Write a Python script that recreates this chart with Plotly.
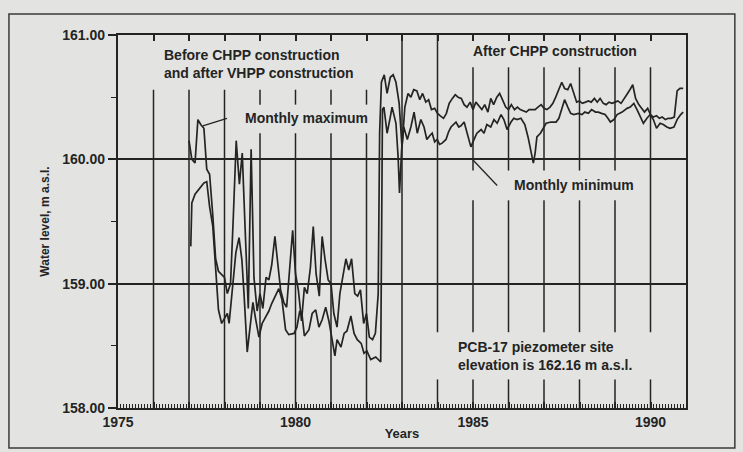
import plotly.graph_objects as go

# ---------------- data ----------------
max_years = [1977.00, 1977.08, 1977.17, 1977.25, 1977.33, 1977.42, 1977.50, 1977.58, 1977.67, 1977.75,
             1977.83, 1977.92, 1978.00, 1978.08, 1978.17, 1978.25, 1978.33, 1978.42, 1978.50, 1978.58,
             1978.67, 1978.75, 1978.83, 1978.92, 1979.00, 1979.08, 1979.17, 1979.25, 1979.33, 1979.42,
             1979.50, 1979.58, 1979.67, 1979.75, 1979.83, 1979.92, 1980.00, 1980.08, 1980.17, 1980.25,
             1980.33, 1980.42, 1980.50, 1980.58, 1980.67, 1980.75, 1980.83, 1980.92, 1981.00, 1981.08,
             1981.17, 1981.25, 1981.33, 1981.42, 1981.50, 1981.58, 1981.67, 1981.75, 1981.83, 1981.92,
             1982.00, 1982.08, 1982.17, 1982.25, 1982.33, 1982.37, 1982.42, 1982.50, 1982.58, 1982.67,
             1982.75, 1982.83, 1982.92, 1983.00, 1983.08, 1983.17, 1983.25, 1983.33, 1983.42, 1983.50,
             1983.58, 1983.67, 1983.75, 1983.83, 1983.92, 1984.00, 1984.08, 1984.17, 1984.25, 1984.33,
             1984.42, 1984.50, 1984.58, 1984.67, 1984.75, 1984.83, 1984.92, 1985.00, 1985.08, 1985.17,
             1985.25, 1985.33, 1985.42, 1985.50, 1985.58, 1985.67, 1985.75, 1985.83, 1985.92, 1986.00,
             1986.08, 1986.17, 1986.25, 1986.33, 1986.42, 1986.50, 1986.58, 1986.67, 1986.75, 1986.83,
             1986.92, 1987.00, 1987.08, 1987.17, 1987.25, 1987.33, 1987.42, 1987.50, 1987.58, 1987.67,
             1987.75, 1987.83, 1987.92, 1988.00, 1988.08, 1988.17, 1988.25, 1988.33, 1988.42, 1988.50,
             1988.58, 1988.67, 1988.75, 1988.83, 1988.92, 1989.00, 1989.08, 1989.17, 1989.25, 1989.33,
             1989.42, 1989.50, 1989.58, 1989.67, 1989.75, 1989.83, 1989.92, 1990.00, 1990.08, 1990.17,
             1990.25, 1990.33, 1990.42, 1990.50, 1990.58, 1990.67, 1990.75, 1990.83, 1990.92]
monthly_max = [160.15, 160.00, 159.97, 160.32, 160.28, 160.25, 159.92, 159.88, 159.55, 159.20,
               159.10, 159.07, 159.05, 158.92, 159.00, 159.55, 160.15, 159.80, 160.05, 159.45,
               158.80, 160.08, 159.05, 158.78, 158.92, 158.80, 159.05, 159.03, 159.15, 159.38,
               159.15, 158.95, 158.85, 158.81, 159.10, 159.43, 159.08, 158.95, 158.70, 158.97,
               158.92, 159.13, 159.46, 159.08, 158.90, 159.38, 159.20, 159.03, 159.00, 158.76,
               158.65, 158.92, 159.05, 159.20, 159.11, 159.20, 158.92, 158.90, 158.95, 158.68,
               158.76, 158.57, 158.55, 158.60, 158.92, 160.21, 160.62, 160.68, 160.53, 160.66,
               160.68, 160.62, 160.45, 160.10, 160.42, 160.53, 160.50, 160.56, 160.55, 160.48,
               160.53, 160.46, 160.48, 160.40, 160.41, 160.37, 160.35, 160.33, 160.37, 160.45,
               160.49, 160.52, 160.50, 160.49, 160.44, 160.42, 160.46, 160.40, 160.46, 160.43,
               160.40, 160.44, 160.38, 160.49, 160.44, 160.50, 160.53, 160.48, 160.42, 160.40,
               160.44, 160.40, 160.42, 160.40, 160.39, 160.38, 160.40, 160.40, 160.40, 160.42,
               160.44, 160.41, 160.40, 160.42, 160.45, 160.50, 160.56, 160.62, 160.57, 160.56,
               160.61, 160.53, 160.46, 160.47, 160.45, 160.46, 160.47, 160.46, 160.49, 160.46,
               160.49, 160.45, 160.44, 160.46, 160.45, 160.46, 160.47, 160.45, 160.49, 160.52,
               160.56, 160.60, 160.49, 160.44, 160.41, 160.38, 160.41, 160.36, 160.34, 160.35,
               160.33, 160.34, 160.32, 160.33, 160.33, 160.34, 160.55, 160.57, 160.57]

min_years = [1977.05, 1977.08, 1977.17, 1977.25, 1977.33, 1977.42, 1977.50, 1977.58, 1977.67, 1977.75,
             1977.83, 1977.92, 1978.00, 1978.08, 1978.13, 1978.22, 1978.32, 1978.41, 1978.49, 1978.55,
             1978.64, 1978.72, 1978.80, 1978.88, 1978.97, 1979.06, 1979.16, 1979.25, 1979.33, 1979.42,
             1979.53, 1979.62, 1979.72, 1979.81, 1979.96, 1980.04, 1980.12, 1980.18, 1980.25, 1980.38,
             1980.47, 1980.57, 1980.66, 1980.75, 1980.85, 1980.94, 1981.03, 1981.11, 1981.17, 1981.28,
             1981.37, 1981.45, 1981.56, 1981.65, 1981.74, 1981.85, 1981.93, 1982.01, 1982.12, 1982.26,
             1982.40, 1982.45, 1982.49, 1982.58, 1982.67, 1982.72, 1982.83, 1982.89, 1982.93, 1982.99,
             1983.05, 1983.15, 1983.25, 1983.34, 1983.43, 1983.53, 1983.62, 1983.70, 1983.78, 1983.85,
             1983.92, 1983.99, 1984.06, 1984.13, 1984.24, 1984.31, 1984.38, 1984.45, 1984.52, 1984.60,
             1984.66, 1984.75, 1984.83, 1984.94, 1985.03, 1985.11, 1985.23, 1985.31, 1985.39, 1985.50,
             1985.59, 1985.68, 1985.79, 1985.87, 1985.96, 1986.07, 1986.15, 1986.24, 1986.35, 1986.46,
             1986.55, 1986.63, 1986.70, 1986.75, 1986.80, 1986.90, 1987.06, 1987.20, 1987.34, 1987.42,
             1987.50, 1987.58, 1987.67, 1987.75, 1987.84, 1987.97, 1988.07, 1988.15, 1988.25, 1988.34,
             1988.45, 1988.53, 1988.62, 1988.72, 1988.80, 1988.87, 1988.97, 1989.06, 1989.20, 1989.34,
             1989.43, 1989.53, 1989.62, 1989.72, 1989.80, 1989.90, 1989.99, 1990.08, 1990.17, 1990.27,
             1990.36, 1990.46, 1990.55, 1990.66, 1990.75, 1990.85, 1990.92]
monthly_min = [159.30, 159.65, 159.72, 159.75, 159.78, 159.81, 159.82, 159.62, 159.46, 159.13,
               158.79, 158.68, 158.72, 158.76, 158.68, 158.97, 159.25, 159.37, 159.19, 158.92,
               158.45, 158.65, 158.85, 158.71, 158.57, 158.68, 158.73, 158.78, 158.84, 158.90,
               158.96, 158.87, 158.63, 158.59, 158.60, 158.65, 158.78, 158.76, 158.58, 158.63,
               158.76, 158.79, 158.65, 158.71, 158.81, 158.70, 158.55, 158.42, 158.55, 158.49,
               158.60, 158.62, 158.74, 158.60, 158.55, 158.52, 158.44, 158.46, 158.39, 158.41,
               158.37, 160.40, 160.42, 160.21, 160.34, 160.42, 160.29, 160.02, 159.73, 160.08,
               160.26, 160.16, 160.26, 160.38, 160.21, 160.32, 160.26, 160.16, 160.19, 160.21,
               160.14, 160.16, 160.12, 160.13, 160.16, 160.22, 160.26, 160.28, 160.30, 160.26,
               160.27, 160.30, 160.21, 160.10, 160.16, 160.21, 160.24, 160.21, 160.28, 160.26,
               160.32, 160.29, 160.36, 160.32, 160.24, 160.30, 160.33, 160.32, 160.33, 160.28,
               160.18, 160.05, 159.97, 160.05, 160.18, 160.21, 160.29, 160.30, 160.30, 160.33,
               160.40, 160.48, 160.42, 160.37, 160.36, 160.37, 160.36, 160.38, 160.37, 160.40,
               160.38, 160.38, 160.37, 160.36, 160.33, 160.30, 160.32, 160.36, 160.38, 160.41,
               160.42, 160.45, 160.40, 160.34, 160.29, 160.33, 160.36, 160.32, 160.25, 160.29,
               160.28, 160.26, 160.25, 160.26, 160.32, 160.36, 160.38]

x_tick_years = list(range(1975, 1992))
x_tick_labels = ["1975", "", "", "", "", "1980", "", "", "", "", "1985", "", "", "", "", "1990", ""]
y_tick_vals = [158, 159, 160, 161]
y_tick_labels = ["158.00", "159.00", "160.00", "161.00"]

# ---------------- styling ----------------
INK = "#242424"
BG = "#e3e4e1"
FONT = "Liberation Sans"

fig = go.Figure()
fig.add_trace(go.Scatter(x=max_years, y=monthly_max, mode="lines", name="Monthly maximum",
                         line=dict(color=INK, width=1.7), xaxis="x", yaxis="y"))
fig.add_trace(go.Scatter(x=min_years, y=monthly_min, mode="lines", name="Monthly minimum",
                         line=dict(color=INK, width=1.7), xaxis="x2", yaxis="y"))

# partial vertical year lines (as in the printed figure)
segments = []
for yr in (1976, 1977, 1978):
    segments.append((yr, 160.56, 158.0))
for yr in (1979, 1980, 1981, 1982):
    segments += [(yr, 160.56, 160.44), (yr, 160.21, 158.0)]
segments.append((1983, 161.0, 158.0))
segments += [(1984, 161.0, 158.61), (1984, 158.23, 158.0)]
for yr in (1985, 1986, 1987, 1988, 1989):
    segments += [(yr, 160.74, 159.91), (yr, 159.67, 158.61), (yr, 158.23, 158.0)]
segments += [(1990, 160.74, 158.61), (1990, 158.23, 158.0)]

shapes = [dict(type="line", xref="x", yref="y", x0=s[0], x1=s[0], y0=s[1], y1=s[2],
               line=dict(color=INK, width=1.5)) for s in segments]
# leader lines
shapes.append(dict(type="line", xref="x", yref="y", x0=1977.39, y0=160.27, x1=1978.07, y1=160.33,
                   line=dict(color=INK, width=1.3)))
shapes.append(dict(type="line", xref="x", yref="y", x0=1985.0, y0=159.995, x1=1985.68, y1=159.79,
                   line=dict(color=INK, width=1.3)))
# outer frame of the figure
shapes.append(dict(type="rect", xref="paper", yref="paper", x0=-0.192, x1=1.086, y0=-0.107, y1=1.056,
                   line=dict(color="#3a3a3a", width=1.5), fillcolor="rgba(0,0,0,0)"))

tfont = dict(family=FONT, size=14, color=INK)
annotations = [
    dict(x=1976.24, y=160.765, text="<b>Before CHPP construction<br>and after VHPP construction</b>",
         xanchor="left", yanchor="middle", align="left", showarrow=False, font=tfont),
    dict(x=1978.52, y=160.33, text="<b>Monthly maximum</b>", xanchor="left", yanchor="middle",
         showarrow=False, font=tfont),
    dict(x=1984.94, y=160.87, text="<b>After CHPP construction</b>", xanchor="left", yanchor="middle",
         showarrow=False, font=tfont),
    dict(x=1986.10, y=159.79, text="<b>Monthly minimum</b>", xanchor="left", yanchor="middle",
         showarrow=False, font=tfont),
    dict(x=1984.52, y=158.42, text="<b>PCB-17 piezometer site<br>elevation is 162.16 m a.s.l.</b>",
         xanchor="left", yanchor="middle", align="left", showarrow=False, font=tfont),
]

fig.update_layout(
    width=743, height=452,
    margin=dict(l=118, r=57, t=35, b=44),
    paper_bgcolor=BG, plot_bgcolor=BG,
    showlegend=False,
    shapes=shapes, annotations=annotations,
    font=dict(family=FONT, color=INK),
    xaxis=dict(range=[1975, 1991], tickmode="array", tickvals=x_tick_years, ticktext=x_tick_labels,
               ticks="inside", ticklen=6, tickwidth=1.5, tickcolor=INK,
               minor=dict(dtick=1 / 12, tick0=1975, ticks="inside", ticklen=4, tickwidth=1, tickcolor=INK,
                          showgrid=False),
               showgrid=False, zeroline=False, showline=True, linewidth=2.2, linecolor=INK, mirror=True,
               tickfont=dict(family=FONT, size=14, color=INK, weight="bold"),
               title=dict(text="<b>Years</b>", font=dict(family=FONT, size=13, color=INK), standoff=0)),
    xaxis2=dict(matches="x", overlaying="x", side="top", tickmode="array", tickvals=x_tick_years,
                ticks="inside", ticklen=6, tickwidth=1.5, tickcolor=INK, showticklabels=False,
                showgrid=False, zeroline=False, showline=False),
    yaxis=dict(range=[158, 161], tickmode="array", tickvals=y_tick_vals, ticktext=y_tick_labels,
               ticks="outside", ticklen=8, tickwidth=1.5, tickcolor=INK,
               minor=dict(dtick=0.5, tick0=158, ticks="outside", ticklen=5, tickwidth=1.2, tickcolor=INK,
                          showgrid=False),
               showgrid=True, gridcolor=INK, gridwidth=1.5, zeroline=False,
               showline=True, linewidth=2.2, linecolor=INK, mirror=True,
               tickfont=dict(family=FONT, size=14, color=INK, weight="bold"),
               title=dict(text="<b>Water level, m a.s.l.</b>", font=dict(family=FONT, size=12, color=INK),
                          standoff=10)),
)

fig.write_html("out.html")
